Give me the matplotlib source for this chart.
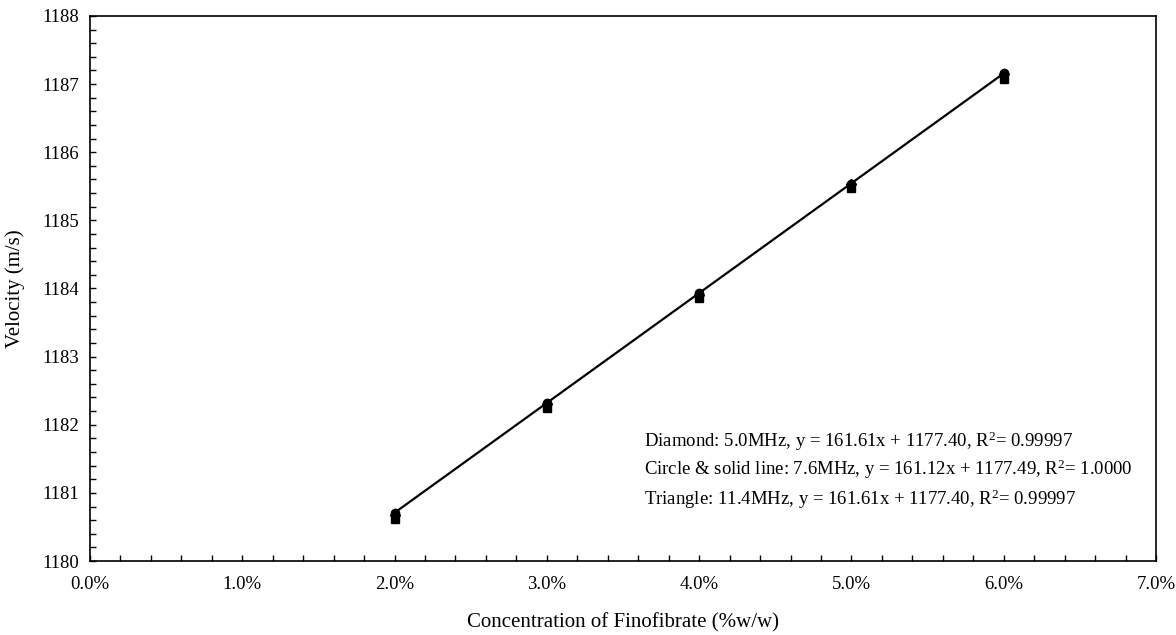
import matplotlib
matplotlib.use('Agg')
import matplotlib.pyplot as plt
import numpy as np
from matplotlib.ticker import MultipleLocator, AutoMinorLocator, PercentFormatter

plt.rcParams['font.family'] = ['Liberation Serif', 'DejaVu Serif']
plt.rcParams['mathtext.fontset'] = 'custom'
plt.rcParams['mathtext.rm'] = 'Liberation Serif'
plt.rcParams['mathtext.it'] = 'Liberation Serif:italic'

# concentration (fraction w/w)
conc = [0.02, 0.03, 0.04, 0.05, 0.06]
# velocities (m/s)
vel_diamond = [1180.68, 1182.30, 1183.91, 1185.53, 1187.14]
vel_circle = [1180.71, 1182.32, 1183.93, 1185.54, 1187.16]
vel_triangle = [1180.62, 1182.24, 1183.86, 1185.48, 1187.08]

notes = [
    'Diamond: 5.0MHz, y = 161.61x + 1177.40, R$^2$= 0.99997',
    'Circle & solid line: 7.6MHz, y = 161.12x + 1177.49, R$^2$= 1.0000',
    'Triangle: 11.4MHz, y = 161.61x + 1177.40, R$^2$= 0.99997',
]

fig = plt.figure(figsize=(11.76, 6.35), dpi=100)
ax = fig.add_axes([0.0765, 0.1165, 0.9065, 0.8585])

# fitted solid line for the circle series
slope, icpt = np.polyfit(conc, vel_circle, 1)
xs = np.array([conc[0], conc[-1]])
ax.plot(xs, slope * xs + icpt, color='black', lw=1.6, zorder=2)

ax.plot(conc, vel_triangle, linestyle='none', marker='s', ms=6, color='black', zorder=3)
ax.plot(conc, vel_circle, linestyle='none', marker='o', ms=6, color='black', zorder=3)
ax.plot(conc, vel_diamond, linestyle='none', marker='D', ms=5, color='black', zorder=3)

ax.set_xlim(0, 0.07)
ax.set_ylim(1180, 1188)
ax.xaxis.set_major_locator(MultipleLocator(0.01))
ax.xaxis.set_major_formatter(PercentFormatter(xmax=1, decimals=1))
ax.xaxis.set_minor_locator(AutoMinorLocator(5))
ax.yaxis.set_major_locator(MultipleLocator(1))
ax.yaxis.set_minor_locator(AutoMinorLocator(5))

ax.tick_params(which='both', direction='in', length=4, width=1, labelsize=13.5,
               top=False, right=False)
ax.tick_params(axis='x', pad=11)
ax.tick_params(axis='y', pad=8)
for s in ax.spines.values():
    s.set_linewidth(1.2)

ax.set_xlabel('Concentration of Finofibrate (%w/w)', fontsize=15, labelpad=14)
ax.set_ylabel('Velocity (m/s)', fontsize=15, labelpad=12)

note_y = [1181.76, 1181.34, 1180.91]
for t, yy in zip(notes, note_y):
    ax.text(0.0364, yy, t, fontsize=13.5, va='center', ha='left')

fig.savefig('out.png', dpi=100)
